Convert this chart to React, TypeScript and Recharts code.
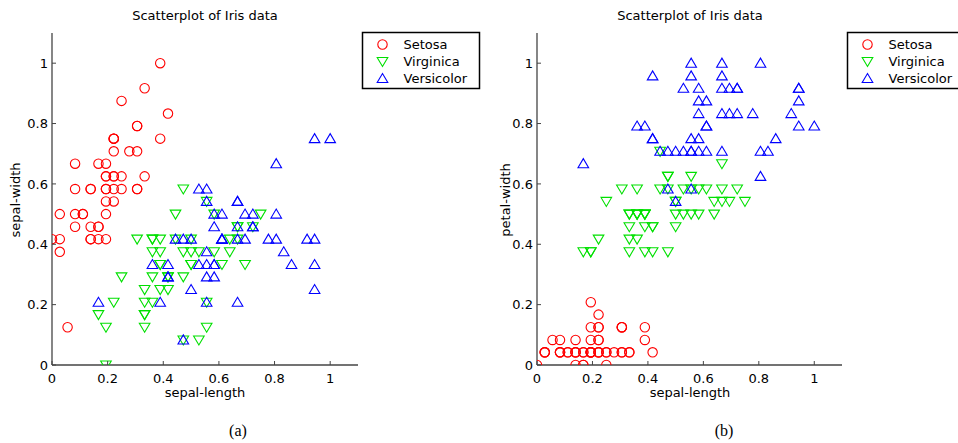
import React from 'react';
import { ScatterChart, Scatter, XAxis, YAxis } from 'recharts';

const setosaSL = [0.222,0.167,0.111,0.083,0.194,0.306,0.083,0.194,0.028,0.167,0.306,0.139,0.139,0,0.417,0.389,0.306,0.222,0.389,0.222,0.306,0.222,0.083,0.222,0.139,0.194,0.194,0.25,0.25,0.111,0.139,0.306,0.25,0.333,0.167,0.194,0.333,0.167,0.028,0.222,0.194,0.056,0.028,0.194,0.222,0.139,0.222,0.083,0.278,0.194];
const setosaSW = [0.625,0.417,0.5,0.458,0.667,0.792,0.583,0.583,0.375,0.458,0.708,0.583,0.417,0.417,0.833,1,0.792,0.625,0.75,0.75,0.583,0.708,0.667,0.542,0.583,0.417,0.583,0.625,0.583,0.5,0.458,0.583,0.875,0.917,0.458,0.5,0.625,0.667,0.417,0.583,0.625,0.125,0.5,0.625,0.75,0.417,0.75,0.5,0.708,0.542];
const setosaPW = [0.042,0.042,0.042,0.042,0.042,0.125,0.083,0.042,0.042,0,0.042,0.042,0,0,0.042,0.125,0.125,0.083,0.083,0.083,0.042,0.125,0.042,0.167,0.042,0.042,0.125,0.042,0.042,0.042,0.042,0.125,0,0.042,0.042,0.042,0.042,0,0.042,0.042,0.083,0.083,0.042,0.208,0.125,0.083,0.042,0.042,0.042,0.042];

const virginicaSL = [0.75,0.583,0.722,0.333,0.611,0.389,0.556,0.167,0.639,0.25,0.194,0.444,0.472,0.5,0.361,0.667,0.361,0.417,0.528,0.361,0.444,0.5,0.556,0.5,0.583,0.639,0.694,0.667,0.472,0.389,0.333,0.333,0.417,0.472,0.306,0.472,0.667,0.556,0.361,0.333,0.333,0.5,0.417,0.194,0.361,0.389,0.389,0.528,0.222,0.389];
const virginicaSW = [0.5,0.5,0.458,0.125,0.333,0.333,0.542,0.167,0.375,0.292,0,0.417,0.083,0.375,0.375,0.458,0.417,0.292,0.083,0.208,0.5,0.333,0.208,0.333,0.375,0.417,0.333,0.417,0.375,0.25,0.167,0.167,0.292,0.292,0.417,0.583,0.458,0.125,0.417,0.208,0.25,0.417,0.25,0.125,0.292,0.417,0.375,0.375,0.208,0.333];
const virginicaPW = [0.542,0.583,0.583,0.5,0.583,0.5,0.625,0.375,0.5,0.542,0.375,0.583,0.375,0.542,0.5,0.542,0.583,0.375,0.583,0.417,0.708,0.5,0.583,0.458,0.5,0.542,0.542,0.667,0.583,0.375,0.417,0.375,0.458,0.625,0.583,0.625,0.583,0.5,0.5,0.5,0.458,0.542,0.458,0.375,0.5,0.458,0.5,0.5,0.417,0.5];

const versicolorSL = [0.556,0.417,0.778,0.556,0.611,0.917,0.167,0.833,0.667,0.806,0.611,0.583,0.694,0.389,0.417,0.583,0.611,0.944,0.944,0.472,0.722,0.361,0.944,0.556,0.667,0.806,0.528,0.5,0.583,0.806,0.861,1,0.583,0.556,0.5,0.944,0.556,0.583,0.472,0.722,0.667,0.722,0.417,0.694,0.667,0.667,0.556,0.611,0.528,0.444];
const versicolorSW = [0.542,0.292,0.417,0.375,0.417,0.417,0.208,0.375,0.208,0.667,0.5,0.292,0.417,0.208,0.333,0.5,0.417,0.75,0.25,0.083,0.5,0.333,0.333,0.292,0.542,0.5,0.333,0.417,0.333,0.417,0.333,0.75,0.333,0.333,0.25,0.417,0.583,0.458,0.417,0.458,0.458,0.458,0.292,0.5,0.542,0.417,0.208,0.417,0.583,0.417];
const versicolorPW = [1,0.75,0.833,0.708,0.875,0.833,0.667,0.708,0.708,1,0.792,0.75,0.833,0.792,0.958,0.917,0.708,0.875,0.917,0.583,0.917,0.792,0.792,0.708,0.833,0.708,0.708,0.708,0.833,0.625,0.75,0.792,0.875,0.583,0.542,0.917,0.958,0.708,0.708,0.833,0.958,0.917,0.75,0.917,1,0.917,0.75,0.792,0.917,0.708];

const tickValues = [0, 0.2, 0.4, 0.6, 0.8, 1];
const seriesNames = ['Setosa', 'Virginica', 'Versicolor'];
const titleText = 'Scatterplot of Iris data';
const xLabel = 'sepal-length';
const yLabels = ['sepal-width', 'petal-width'];
const captions = ['(a)', '(b)'];

// ---- styles ----
const FONT = '"DejaVu Sans", "Liberation Sans", sans-serif';
const AXIS_COLOR = '#444';
const RED = '#ff0000';
const GREEN = '#00e000';
const BLUE = '#0000ff';

const toPoints = (xs: number[], ys: number[]) => xs.map((x, i) => ({ x, y: ys[i] }));

const CircleMark = (p: any) =>
  p.cx == null ? null : (
    <circle cx={p.cx} cy={p.cy} r={4.7} fill="none" stroke={RED} strokeWidth={1.1} />
  );
const DownMark = (p: any) =>
  p.cx == null ? null : (
    <polygon
      points={`${p.cx - 5.3},${p.cy - 4} ${p.cx + 5.3},${p.cy - 4} ${p.cx},${p.cy + 5}`}
      fill="none"
      stroke={GREEN}
      strokeWidth={1.1}
    />
  );
const UpMark = (p: any) =>
  p.cx == null ? null : (
    <polygon
      points={`${p.cx - 5.3},${p.cy + 4} ${p.cx + 5.3},${p.cy + 4} ${p.cx},${p.cy - 5}`}
      fill="none"
      stroke={BLUE}
      strokeWidth={1.1}
    />
  );

const X_TICK_MARGIN = 8;
const Y_TICK_MARGIN = 4;

const XTick = (p: any) => {
  const axisY = p.y - X_TICK_MARGIN;
  return (
    <g>
      <line x1={p.x} x2={p.x} y1={axisY} y2={axisY - 4} stroke={AXIS_COLOR} strokeWidth={1} />
      <text x={p.x} y={p.y} dy="0.75em" textAnchor="middle" fontSize={13} fontFamily={FONT} fill="#000">
        {String(p.payload.value)}
      </text>
    </g>
  );
};
const YTick = (p: any) => {
  const axisX = p.x + Y_TICK_MARGIN;
  return (
    <g>
      <line x1={axisX} x2={axisX + 4} y1={p.y} y2={p.y} stroke={AXIS_COLOR} strokeWidth={1} />
      <text x={p.x} y={p.y} dy="0.36em" textAnchor="end" fontSize={13} fontFamily={FONT} fill="#000">
        {String(p.payload.value)}
      </text>
    </g>
  );
};

function Panel(props: {
  left: number;
  marginLeft: number;
  marginRight: number;
  setosa: { x: number; y: number }[];
  virginica: { x: number; y: number }[];
  versicolor: { x: number; y: number }[];
}) {
  return (
    <div style={{ position: 'absolute', left: props.left, top: 0 }}>
      <ScatterChart
        width={479}
        height={443}
        margin={{ top: 33, right: props.marginRight, bottom: 48, left: props.marginLeft }}
      >
        <XAxis
          type="number"
          dataKey="x"
          domain={[0, 1.1]}
          ticks={tickValues}
          interval={0}
          height={30}
          tickSize={0}
          tickMargin={X_TICK_MARGIN}
          tickLine={false}
          tick={<XTick />}
          axisLine={{ stroke: AXIS_COLOR, strokeWidth: 1.3 }}
          allowDataOverflow
        />
        <YAxis
          type="number"
          dataKey="y"
          domain={[0, 1.1]}
          ticks={tickValues}
          interval={0}
          width={40}
          tickSize={0}
          tickMargin={Y_TICK_MARGIN}
          tickLine={false}
          tick={<YTick />}
          axisLine={{ stroke: AXIS_COLOR, strokeWidth: 1.3 }}
          allowDataOverflow
        />
        <Scatter name={seriesNames[0]} data={props.setosa} shape={CircleMark} isAnimationActive={false} />
        <Scatter name={seriesNames[1]} data={props.virginica} shape={DownMark} isAnimationActive={false} />
        <Scatter name={seriesNames[2]} data={props.versicolor} shape={UpMark} isAnimationActive={false} />
      </ScatterChart>
    </div>
  );
}

function LegendBox({ x, y }: { x: number; y: number }) {
  const rows = [12, 29, 46];
  return (
    <g>
      <rect x={x} y={y} width={117} height={56} fill="#fff" stroke="#000" strokeWidth={1.5} />
      <circle cx={x + 20} cy={y + rows[0]} r={4.7} fill="none" stroke={RED} strokeWidth={1.1} />
      <polygon
        points={`${x + 14.7},${y + rows[1] - 4} ${x + 25.3},${y + rows[1] - 4} ${x + 20},${y + rows[1] + 5}`}
        fill="none"
        stroke={GREEN}
        strokeWidth={1.1}
      />
      <polygon
        points={`${x + 14.7},${y + rows[2] + 4} ${x + 25.3},${y + rows[2] + 4} ${x + 20},${y + rows[2] - 5}`}
        fill="none"
        stroke={BLUE}
        strokeWidth={1.1}
      />
      {seriesNames.map((n, i) => (
        <text key={n} x={x + 41} y={y + rows[i]} dy="0.36em" fontSize={13} fontFamily={FONT} fill="#000">
          {n}
        </text>
      ))}
    </g>
  );
}

export default function App() {
  return (
    <div
      style={{
        position: 'absolute',
        left: 0,
        top: 0,
        width: 958,
        height: 443,
        overflow: 'hidden',
        background: '#fff',
      }}
    >
      <Panel
        left={0}
        marginLeft={12}
        marginRight={121}
        setosa={toPoints(setosaSL, setosaSW)}
        virginica={toPoints(virginicaSL, virginicaSW)}
        versicolor={toPoints(versicolorSL, versicolorSW)}
      />
      <Panel
        left={479}
        marginLeft={18}
        marginRight={116}
        setosa={toPoints(setosaSL, setosaPW)}
        virginica={toPoints(virginicaSL, virginicaPW)}
        versicolor={toPoints(versicolorSL, versicolorPW)}
      />
      <svg
        width={958}
        height={443}
        style={{ position: 'absolute', left: 0, top: 0, pointerEvents: 'none' }}
      >
        <text x={205} y={20} textAnchor="middle" fontSize={13} fontFamily={FONT} fill="#000">
          {titleText}
        </text>
        <text x={690} y={20} textAnchor="middle" fontSize={13} fontFamily={FONT} fill="#000">
          {titleText}
        </text>
        <text x={205} y={397} textAnchor="middle" fontSize={13} fontFamily={FONT} fill="#000">
          {xLabel}
        </text>
        <text x={690} y={397} textAnchor="middle" fontSize={13} fontFamily={FONT} fill="#000">
          {xLabel}
        </text>
        <text
          transform="translate(15,200) rotate(-90)"
          textAnchor="middle"
          dy="0.36em"
          fontSize={13}
          fontFamily={FONT}
          fill="#000"
        >
          {yLabels[0]}
        </text>
        <text
          transform="translate(505,200) rotate(-90)"
          textAnchor="middle"
          dy="0.36em"
          fontSize={13}
          fontFamily={FONT}
          fill="#000"
        >
          {yLabels[1]}
        </text>
        <text x={238} y={436} textAnchor="middle" fontSize={16} fontFamily='"Liberation Serif", serif' fill="#000">
          {captions[0]}
        </text>
        <text x={724} y={436} textAnchor="middle" fontSize={16} fontFamily='"Liberation Serif", serif' fill="#000">
          {captions[1]}
        </text>
        <LegendBox x={362.5} y={32.5} />
        <LegendBox x={847.5} y={32.5} />
      </svg>
    </div>
  );
}
